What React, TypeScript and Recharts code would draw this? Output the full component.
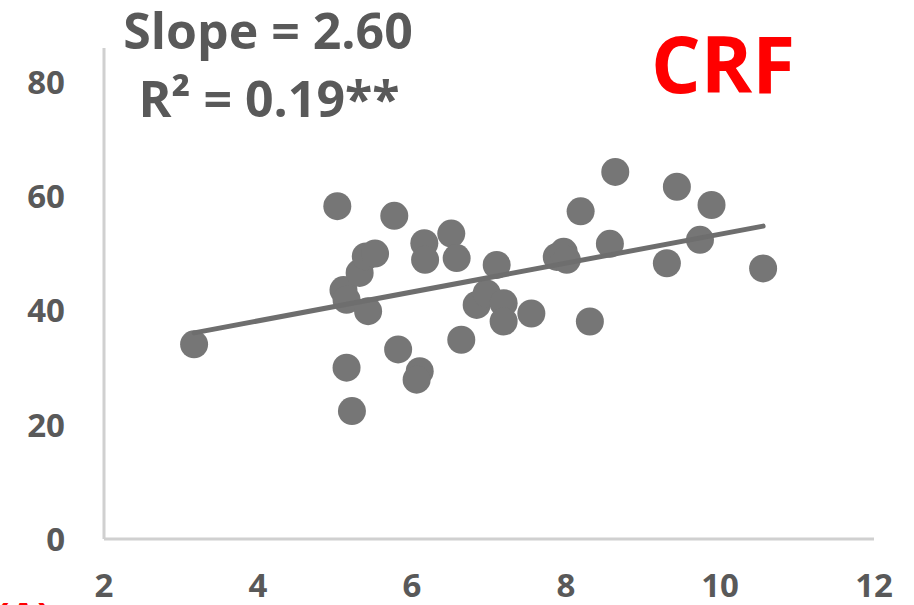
import { ScatterChart, Scatter, XAxis, YAxis } from "recharts"

// values
const xValues = [
    3.17, 5.03, 5.11, 5.15, 5.15, 5.22, 5.32, 5.40, 5.52, 5.43,
    5.77, 5.82, 6.10, 6.06, 6.16, 6.17, 6.51, 6.58, 6.64, 7.10,
    6.84, 6.97, 7.19, 7.19, 7.55, 7.88, 7.97, 8.01, 8.19, 8.31,
    8.57, 8.64, 9.31, 9.44, 9.74, 9.89, 10.56,
]
const yValues = [
    34.1, 58.3, 43.6, 41.9, 30.0, 22.4, 46.6, 49.5, 50.0, 39.9,
    56.6, 33.2, 29.4, 27.9, 51.8, 48.9, 53.5, 49.2, 34.9, 48.0,
    41.0, 43.0, 41.3, 38.1, 39.5, 49.4, 50.3, 48.9, 57.4, 38.1,
    51.7, 64.3, 48.3, 61.7, 52.4, 58.5, 47.4,
]
const trendX = [3.17, 10.56]
const trendY = [36.1, 54.8]
const xTicks = [2, 4, 6, 8, 10, 12]
const yTicks = [0, 20, 40, 60, 80]

const points = xValues.map((x, i) => ({ x, y: yValues[i] }))
const trend = trendX.map((x, i) => ({ x, y: trendY[i] }))

const FONT = "'Open Sans', 'Liberation Sans', sans-serif"
const GREY_TEXT = "#595959"

export default function App() {
    const tickStyle = { fill: GREY_TEXT, fontSize: 33, fontWeight: 700, fontFamily: FONT }

    return (
        <div style={{ position: "absolute", left: 0, top: 0, width: 914, height: 605, background: "#fff" }}>
            <ScatterChart width={914} height={605} margin={{ top: 48, right: 40, bottom: 0, left: 0 }}>
                <XAxis
                    type="number"
                    dataKey="x"
                    domain={[2, 12]}
                    ticks={xTicks}
                    height={66}
                    tickLine={false}
                    tickSize={0}
                    tickMargin={35}
                    axisLine={{ stroke: "#d0d0d0", strokeWidth: 3 }}
                    tick={tickStyle}
                />
                <YAxis
                    type="number"
                    dataKey="y"
                    domain={[0, 86]}
                    ticks={yTicks}
                    width={104}
                    tickLine={false}
                    tickSize={0}
                    tickMargin={39}
                    axisLine={{ stroke: "#d0d0d0", strokeWidth: 3 }}
                    tick={tickStyle}
                />
                <Scatter
                    data={points}
                    fill="#767676"
                    shape={(p: any) => <circle cx={p.cx} cy={p.cy} r={14} fill="#767676" />}
                    isAnimationActive={false}
                />
                {/* trend line drawn on top of the points */}
                <Scatter
                    data={trend}
                    line={{ stroke: "#6e6e6e", strokeWidth: 5, strokeLinecap: "round" }}
                    shape={() => <g />}
                    isAnimationActive={false}
                />
            </ScatterChart>
            <svg width={914} height={605} style={{ position: "absolute", left: 0, top: 0, pointerEvents: "none" }}>
                <text x={268} y={49} textAnchor="middle" fill={GREY_TEXT} fontSize={50} fontWeight={700} fontFamily={FONT}>
                    Slope = 2.60
                </text>
                <text x={269} y={117} textAnchor="middle" fill={GREY_TEXT} fontSize={50} fontWeight={700} fontFamily={FONT}>
                    R² = 0.19**
                </text>
                <text x={723} y={93} textAnchor="middle" fill="#ff0000" fontSize={78} fontWeight={700} fontFamily={FONT}>
                    CRF
                </text>
                <text x={-4} y={631} fill="#ff0000" fontSize={40} fontWeight={700} fontFamily={FONT}>
                    (A)
                </text>
            </svg>
        </div>
    )
}
